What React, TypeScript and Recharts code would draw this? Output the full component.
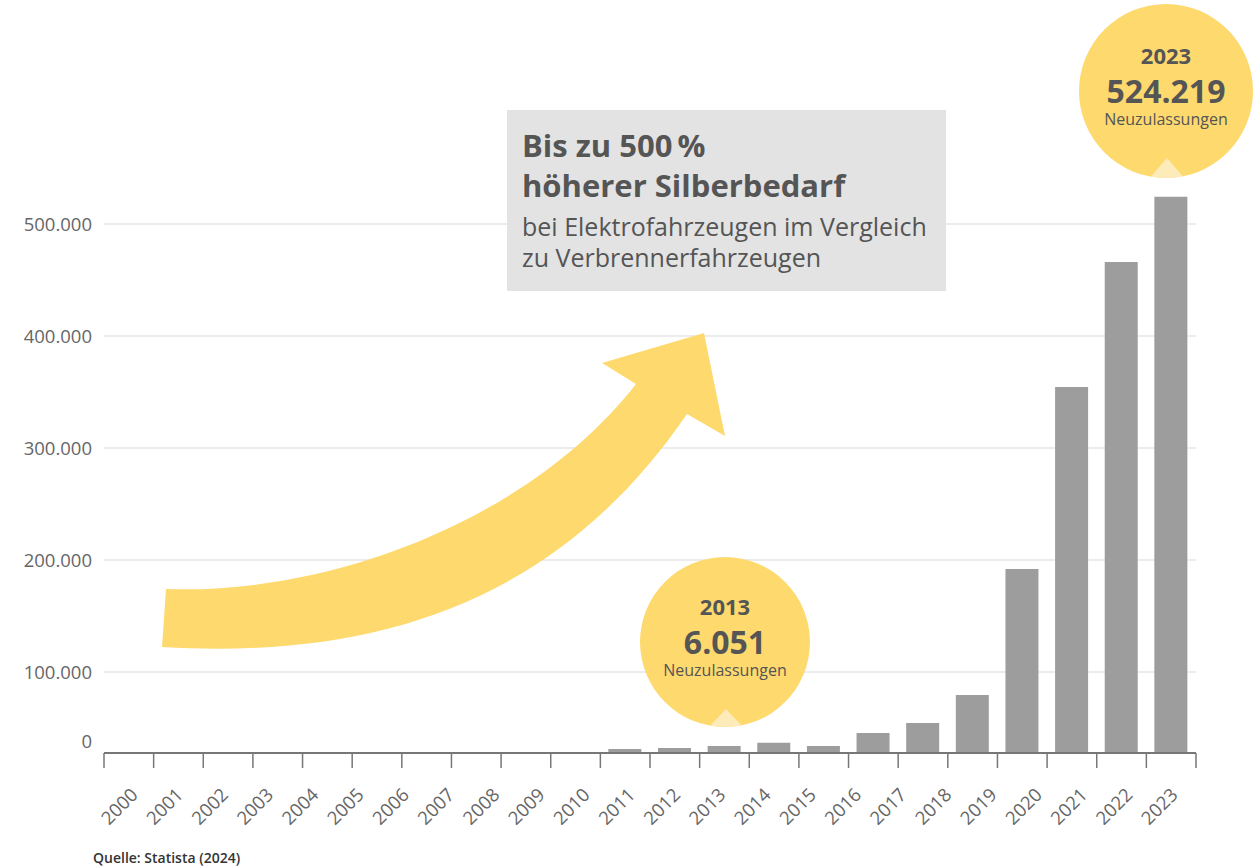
import React from 'react';
import { BarChart, Bar, XAxis, YAxis, CartesianGrid } from 'recharts';

// ---- data ----
const axisYears = [2000, 2001, 2002, 2003, 2004, 2005, 2006, 2007, 2008, 2009, 2010, 2011,
  2012, 2013, 2014, 2015, 2016, 2017, 2018, 2019, 2020, 2021, 2022, 2023];
const barYears = [2012, 2013, 2014, 2015, 2016, 2017, 2018, 2019, 2020, 2021, 2022, 2023];
const registrations = [4900, 6051, 8600, 12700, 8600, 24700, 37000, 71600, 192000, 354500, 466000, 524219];
const yTicks = [0, 100000, 200000, 300000, 400000, 500000];
const slotEdges = [2001.5, 2002.5, 2003.5, 2004.5, 2005.5, 2006.5, 2007.5, 2008.5, 2009.5, 2010.5,
  2011.5, 2012.5, 2013.5, 2014.5, 2015.5, 2016.5, 2017.5, 2018.5, 2019.5, 2020.5, 2021.5, 2022.5, 2023.5];
const highlightYears = [2013, 2023];
const bubbleUnit = 'Neuzulassungen';
const titleLines = ['Bis zu 500\u2009%', 'höherer Silberbedarf'];
const subtitleLines = ['bei Elektrofahrzeugen im Vergleich', 'zu Verbrennerfahrzeugen'];
const sourceText = 'Quelle: Statista (2024)';

const data = barYears.map((year, i) => ({ year, value: registrations[i] }));

const fmt = (v: number) => String(v).replace(/\B(?=(\d{3})+(?!\d))/g, '.');

// The original value axis is compressed below 100.000 (broken scale).
const BREAK_VALUE = 100000;
const BREAK_FRACTION = 81 / 641;
function makeBrokenScale(domainIn: number[] = [0, 1], rangeIn: number[] = [0, 1]): any {
  let d = domainIn.slice();
  let r = rangeIn.slice();
  const frac = (v: number) => {
    const d0 = d[0];
    const d1 = d[d.length - 1];
    if (d1 <= BREAK_VALUE) return (v - d0) / ((d1 - d0) || 1);
    if (v <= BREAK_VALUE) return ((v - d0) / (BREAK_VALUE - d0)) * BREAK_FRACTION;
    return BREAK_FRACTION + ((v - BREAK_VALUE) / (d1 - BREAK_VALUE)) * (1 - BREAK_FRACTION);
  };
  const s: any = (v: any) => r[0] + (r[r.length - 1] - r[0]) * frac(Number(v));
  s.domain = (x?: any[]) => {
    if (x === undefined) return d.slice();
    d = x.map(Number);
    return s;
  };
  s.range = (x?: any[]) => {
    if (x === undefined) return r.slice();
    r = x.map(Number);
    return s;
  };
  s.copy = () => makeBrokenScale(d, r);
  s.ticks = () => yTicks.slice();
  s.tickFormat = () => (v: any) => String(v);
  s.nice = () => s;
  s.clamp = () => s;
  s.invert = (px: number) => {
    const f = (px - r[0]) / ((r[r.length - 1] - r[0]) || 1);
    const d0 = d[0];
    const d1 = d[d.length - 1];
    if (f <= BREAK_FRACTION) return d0 + (f / BREAK_FRACTION) * (BREAK_VALUE - d0);
    return BREAK_VALUE + ((f - BREAK_FRACTION) / (1 - BREAK_FRACTION)) * (d1 - BREAK_VALUE);
  };
  return s;
}
const valueScale = makeBrokenScale();

const FONT = '"Open Sans", "Noto Sans", sans-serif';
const TEXT = '#555555';
const AXIS_TEXT = '#666666';
const YELLOW = '#FDD96E';
const LIGHT = '#FEEBBA';

const YearTick = (props: any) => {
  const { x, y, payload } = props;
  const ax = x + 1;
  const ay = y + 27;
  return (
    <text x={ax} y={ay} transform={`rotate(-45 ${ax} ${ay})`} textAnchor="end"
      fontSize={18.5} fill={AXIS_TEXT} fontFamily={FONT}>{payload.value}</text>
  );
};

const ValueTick = (props: any) => {
  const { x, y, payload } = props;
  const yy = payload.value === 0 ? y - 12 : y;
  return (
    <text x={x} y={yy} dy="0.36em" textAnchor="end" fontSize={18.5} fill={AXIS_TEXT} fontFamily={FONT}>
      {fmt(payload.value)}
    </text>
  );
};

const bubbles = [
  { year: highlightYears[0], cx: 725, cy: 642, r: 85 },
  { year: highlightYears[1], cx: 1166, cy: 91, r: 87 },
];

export default function App() {
  return (
    <div style={{ position: 'absolute', left: 0, top: 0, width: 1256, height: 868, background: '#fff', fontFamily: FONT }}>
      <BarChart width={1256} height={868} data={data} margin={{ top: 112, right: 60, left: 0, bottom: 19 }}>
        <CartesianGrid vertical={false} xAxisId="bars" horizontalValues={yTicks} stroke="#e6e6e6" strokeWidth={1.5} />
        <XAxis xAxisId="bars" dataKey="year" type="number" domain={[2001.5, 2023.5]} allowDataOverflow
          ticks={slotEdges} interval={0} tickFormatter={() => ''} tickSize={15} height={16}
          axisLine={{ stroke: '#777', strokeWidth: 2 }} tickLine={{ stroke: '#777', strokeWidth: 1.5 }} />
        <XAxis xAxisId="labels" dataKey="year" type="number" domain={[1999.25, 2023.4]} allowDataOverflow
          ticks={axisYears} interval={0} tick={<YearTick />} tickSize={0} tickMargin={0} height={80}
          axisLine={false} tickLine={false} />
        <YAxis type="number" scale={valueScale} domain={[0, 600000]} allowDataOverflow ticks={yTicks} interval={0} width={104}
          axisLine={false} tickLine={false} tickSize={0} tickMargin={12} tick={<ValueTick />} />
        <Bar xAxisId="bars" dataKey="value" fill="#9d9d9d" barSize={33} isAnimationActive={false} />
      </BarChart>

      <svg width={1256} height={868} style={{ position: 'absolute', left: 0, top: 0, pointerEvents: 'none' }}>
        <defs>
          {bubbles.map((b) => (
            <clipPath id={`clip-${b.year}`} key={b.year}>
              <circle cx={b.cx} cy={b.cy} r={b.r} />
            </clipPath>
          ))}
        </defs>

        {/* text box */}
        <rect x={507} y={110} width={439} height={181} fill="#e3e3e3" />
        <text x={522} y={157} fontSize={31} fontWeight={700} fill={TEXT} fontFamily={FONT}>{titleLines[0]}</text>
        <text x={522} y={197} fontSize={31} fontWeight={700} fill={TEXT} fontFamily={FONT}>{titleLines[1]}</text>
        <text x={522} y={236} fontSize={25} fill={TEXT} fontFamily={FONT}>{subtitleLines[0]}</text>
        <text x={522} y={267} fontSize={25} fill={TEXT} fontFamily={FONT}>{subtitleLines[1]}</text>

        {/* arrow */}
        <path d="M166,589 C330,595 530,520 636,384 L602,363 L704,333 L725,436 L687,414 C560,600 380,660 162,647 Z"
          fill={YELLOW} />

        {/* bubbles */}
        {bubbles.map((b) => {
          const v = registrations[barYears.indexOf(b.year)];
          return (
            <g key={b.year}>
              <circle cx={b.cx} cy={b.cy} r={b.r} fill={YELLOW} />
              <polygon clipPath={`url(#clip-${b.year})`}
                points={`${b.cx - 18},${b.cy + b.r + 2} ${b.cx + 1},${b.cy + 67} ${b.cx + 20},${b.cy + b.r + 2}`}
                fill={LIGHT} />
              <text x={b.cx} y={b.cy - 27} textAnchor="middle" fontSize={22} fontWeight={700} fill={TEXT} fontFamily={FONT}>{b.year}</text>
              <text x={b.cx} y={b.cy + 12} textAnchor="middle" fontSize={32} fontWeight={700} fill={TEXT} fontFamily={FONT}>{fmt(v)}</text>
              <text x={b.cx} y={b.cy + 34} textAnchor="middle" fontSize={16} fill={TEXT} fontFamily={FONT}>{bubbleUnit}</text>
            </g>
          );
        })}

        <text x={93} y={863} fontSize={14} fontWeight={600} fill="#333" fontFamily={FONT}>{sourceText}</text>
      </svg>
    </div>
  );
}
